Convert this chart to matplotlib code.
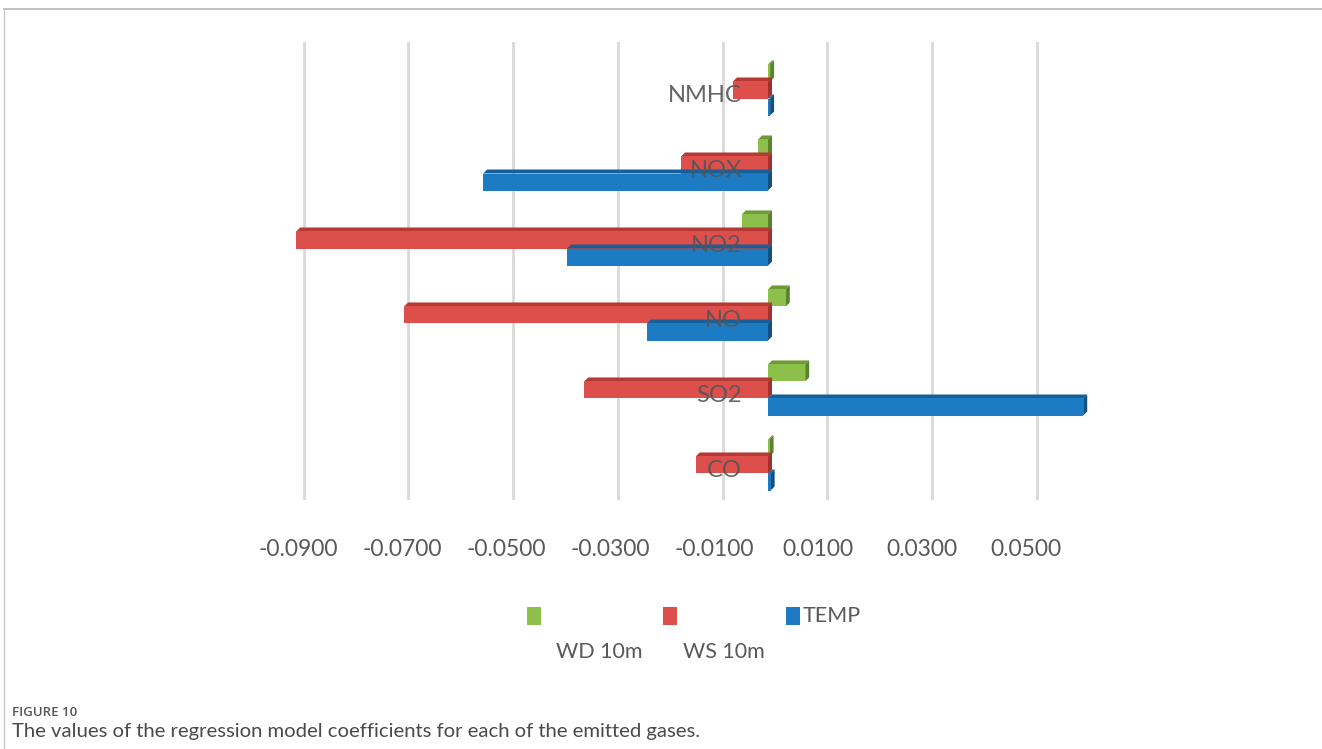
import numpy as np
import matplotlib.pyplot as plt
from matplotlib.patches import Polygon, Rectangle
from matplotlib.transforms import ScaledTranslation
from matplotlib.lines import Line2D

# regression coefficients per gas (bottom to top)
gases = ['CO', 'SO2', 'NO', 'NO2', 'NOX', 'NMHC']
wd_10m = [0.0003, 0.0071, 0.0034, -0.0050, -0.0019, 0.0004]
ws_10m = [-0.0138, -0.0351, -0.0695, -0.0901, -0.0166, -0.0067]
temp = [0.0005, 0.0602, -0.0231, -0.0384, -0.0544, 0.0004]

series = [('WD 10m', wd_10m, '#8cc04b', '#6d9a36', '#5b822c'),
          ('WS 10m', ws_10m, '#dd4f4a', '#b53a35', '#a3302c'),
          ('TEMP', temp, '#1c7bc2', '#16609a', '#12507f')]

ticks = [-0.09, -0.07, -0.05, -0.03, -0.01, 0.01, 0.03, 0.05]
tick_labels = ['%.4f' % t for t in ticks]

W, H, DPI = 1322, 749, 100
fig = plt.figure(figsize=(W / DPI, H / DPI), dpi=DPI)
plt.rcParams['font.family'] = ['Lato', 'DejaVu Sans']
txt_col = '#595959'
fs = 16.5

# axes box in pixels: x 250..1100, y 42..500 (from top)
ax = fig.add_axes([250 / W, (H - 500) / H, 850 / W, 458 / H])
px_per_unit = 5236.0
zero_px = 775.0
ax.set_xlim((250 - zero_px) / px_per_unit, (1100 - zero_px) / px_per_unit)
ax.set_ylim(-0.467, 5.64)
for s in ax.spines.values():
    s.set_visible(False)
ax.set_yticks([])
ax.set_xticks(ticks)
ax.set_xticklabels(tick_labels)
ax.grid(axis='x', color='#d9d9d9', linewidth=2)
ax.set_axisbelow(True)
ax.tick_params(axis='x', length=0, pad=28, labelsize=fs, labelcolor=txt_col)
for lbl, t in zip(ax.get_xticklabels(), ticks):
    # labels drift left a bit more towards the right end
    sh = -5 - 6 * (t + 0.09) / 0.14
    lbl.set_transform(lbl.get_transform() + ScaledTranslation(sh / DPI, 0, fig.dpi_scale_trans))

# front faces sit a little in front of the back wall
front = ax.transData + ScaledTranslation(-7 / DPI, 0, fig.dpi_scale_trans)
dx = 4 / px_per_unit
dy = 4 / 75.0
bh = 0.227
offsets = [bh, 0.0, -bh]

y = np.arange(len(gases))
for (name, vals, c_front, c_top, c_side), off in zip(series, offsets):
    for yi, v in zip(y, vals):
        x0, x1 = min(0, v), max(0, v)
        yb, yt = yi + off - bh / 2, yi + off + bh / 2
        top = Polygon([(x0, yt), (x1, yt), (x1 + dx, yt + dy), (x0 + dx, yt + dy)],
                      closed=True, facecolor=c_top, edgecolor='none', transform=front)
        side = Polygon([(x1, yb), (x1, yt), (x1 + dx, yt + dy), (x1 + dx, yb + dy)],
                       closed=True, facecolor=c_side, edgecolor='none', transform=front)
        ax.add_patch(top)
        ax.add_patch(side)
    bars = ax.barh(y + off, vals, height=bh, color=c_front, linewidth=0)
    for b in bars:
        b.set_transform(front)

for yi, g in zip(y, gases):
    ax.annotate(g, xy=(0, yi - 0.07), xytext=(-33, 0), textcoords='offset pixels',
                ha='right', va='center', fontsize=17, color='#555555', alpha=0.9)

# legend laid out by hand
def fx(p):
    return p / W

def fy(p):
    return 1 - p / H

for left, col in [(527, '#8cc04b'), (663, '#dd4f4a'), (786, '#1c7bc2')]:
    fig.patches.append(Rectangle((fx(left), fy(625)), 14 / W, 18 / H,
                                 transform=fig.transFigure, facecolor=col, edgecolor='none'))
fig.text(fx(803), fy(616), 'TEMP', ha='left', va='center', fontsize=15.5, color=txt_col)
fig.text(fx(556), fy(652), 'WD 10m', ha='left', va='center', fontsize=15.5, color=txt_col)
fig.text(fx(683), fy(652), 'WS 10m', ha='left', va='center', fontsize=15.5, color=txt_col)

# frame and caption
fig.lines.append(Line2D([fx(4), 1], [fy(9), fy(9)], transform=fig.transFigure,
                        color='#b5b5b5', linewidth=1.2))
fig.lines.append(Line2D([fx(4), fx(4)], [fy(9), 0], transform=fig.transFigure,
                        color='#c8c8c8', linewidth=1.0))
fig.text(fx(12), fy(712), 'FIGURE 10', ha='left', va='center', fontsize=9.5,
         fontweight='semibold', color='#555555', family=['Open Sans', 'DejaVu Sans'])
fig.text(fx(12), fy(731), 'The values of the regression model coefficients for each of the emitted gases.',
         ha='left', va='center', fontsize=14.6, color='#4a4a4a')

fig.savefig('out.png', dpi=DPI)
